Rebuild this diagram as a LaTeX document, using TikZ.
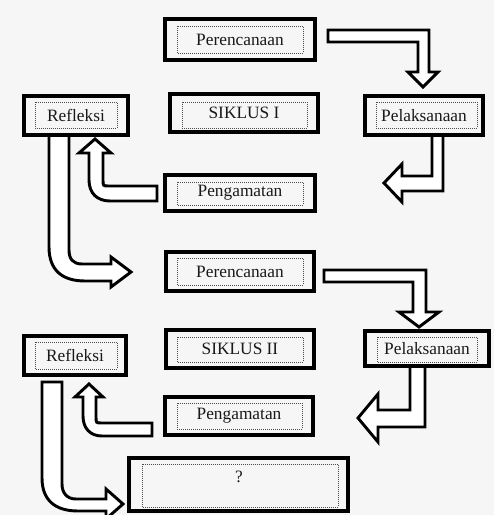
\documentclass[tikz,border=0pt]{standalone}
\usepackage{fontspec}
\setmainfont{Liberation Serif}
\definecolor{bg}{RGB}{246,246,246}
\definecolor{ink}{RGB}{25,25,25}
\def\u{0.75pt}
\tikzset{
  frame/.style={draw=black, line width=3pt, fill=bg, inner sep=0pt, text=ink,
    font=\fontsize{13}{15}\selectfont},
  dotbox/.style={draw=black!70, line width=0.5pt, densely dotted},
  blockarrow/.style={draw=black, line width=2.2pt, fill=white, line join=miter},
  lbl/.style={inner sep=0pt, text=ink, font=\fontsize{13}{15}\selectfont}
}
\begin{document}
\begin{tikzpicture}[x=0.75pt, y=-0.75pt]
\clip (0,0) rectangle (494,515);
\fill[bg] (0,0) rectangle (494,515);

% ---- block arrows (drawn first, boxes cover their ends) ----
% Perencanaan I -> Pelaksanaan I
\draw[blockarrow] (328,30) -- (429,30) -- (429,72) -- (438,72) -- (423,87) -- (408,72)
  -- (418,72) -- (418,42) -- (328,42) -- cycle;
% Pelaksanaan I -> Pengamatan I
\draw[blockarrow] (432,134) -- (443,134) -- (443,191) -- (402,191) -- (402,202) -- (384,183)
  -- (402,164) -- (402,176) -- (432,176) -- cycle;
% Pengamatan I -> Refleksi I
\draw[blockarrow] (157,186) -- (109,186) .. controls (103,186) .. (103,180) -- (103,153)
  -- (111,153) -- (95,139) -- (79,153) -- (89,153) -- (89,180)
  .. controls (89,193) and (97,201) .. (110,201) -- (157,201) -- cycle;
% Refleksi I -> Perencanaan II
\draw[blockarrow] (49,134) -- (69,134) -- (69,250) .. controls (69,259) and (73,264) .. (82,264)
  -- (111,264) -- (111,257) -- (131,272) -- (111,287) -- (111,281) -- (85,281)
  .. controls (62,281) and (49,270) .. (49,247) -- cycle;
% Perencanaan II -> Pelaksanaan II
\draw[blockarrow] (324,270) -- (426,270) -- (426,312) -- (439,312) -- (419,327) -- (399,312)
  -- (413,312) -- (413,282) -- (324,282) -- cycle;
% Pelaksanaan II -> Pengamatan II
\draw[blockarrow] (410,365) -- (425,365) -- (425,427) -- (378,427) -- (378,442) -- (358,418)
  -- (378,394) -- (378,410) -- (410,410) -- cycle;
% Pengamatan II -> Refleksi II
\draw[blockarrow] (152,423) -- (102,423) .. controls (96,423) .. (96,417) -- (96,397)
  -- (103,397) -- (89,384) -- (75,397) -- (83,397) -- (83,416)
  .. controls (83,428) and (90,436) .. (102,436) -- (152,436) -- cycle;
% Refleksi II -> ?
\draw[blockarrow] (42,382) -- (62,382) -- (62,484) .. controls (62,493) and (67,499) .. (76,499)
  -- (106,499) -- (106,489) -- (123,504) -- (106,519) -- (106,511) -- (78,511)
  .. controls (55,511) and (42,500) .. (42,478) -- cycle;

% ---- boxes ----
\node[frame, minimum width=150*\u, minimum height=41*\u] (P1) at (240,39.5) {Perencanaan};
\node[frame, minimum width=148*\u, minimum height=38*\u] (S1) at (244,113) {SIKLUS I};
\node[frame, minimum width=118*\u, minimum height=39*\u] (L1) at (424,115.5) {Pelaksanaan};
\node[frame, minimum width=104*\u, minimum height=39*\u] (R1) at (76,115.5) {Refleksi};
\node[frame, minimum width=150*\u, minimum height=36*\u] (G1) at (240,193) {Pengamatan};
\node[frame, minimum width=148*\u, minimum height=39*\u] (P2) at (240,271.5) {Perencanaan};
\node[frame, minimum width=148*\u, minimum height=38*\u] (S2) at (240,349) {SIKLUS II};
\node[frame, minimum width=124*\u, minimum height=35*\u] (L2) at (427,348.5) {Pelaksanaan};
\node[frame, minimum width=102*\u, minimum height=39*\u] (R2) at (75,355.5) {Refleksi};
\node[frame, minimum width=148*\u, minimum height=38*\u] (G2) at (239,416) {Pengamatan};
\node[frame, minimum width=219*\u, minimum height=53*\u] (Q) at (238.5,484.5) {};
\node[lbl] (Qt) at (239,477) {?};

% ---- inner dotted frames ----
\draw[dotbox] (177,26) rectangle (303,53);
\draw[dotbox] (182,102) rectangle (307,128);
\draw[dotbox] (376,102) rectangle (477,128);
\draw[dotbox] (35,102) rectangle (117,128);
\draw[dotbox] (177,182) rectangle (303,205);
\draw[dotbox] (177,258) rectangle (303,285);
\draw[dotbox] (177,337) rectangle (303,362);
\draw[dotbox] (377,337) rectangle (477,362);
\draw[dotbox] (35,342) rectangle (117,369);
\draw[dotbox] (177,403) rectangle (302,429);
\draw[dotbox] (142,464) rectangle (338,507);
\end{tikzpicture}
\end{document}
